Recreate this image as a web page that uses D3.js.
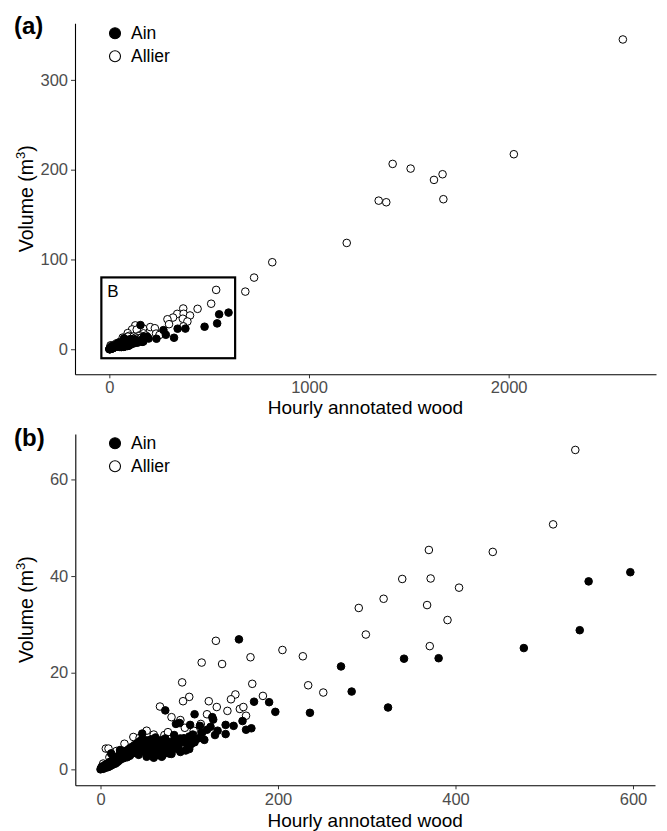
<!DOCTYPE html>
<html>
<head>
<meta charset="utf-8">
<script src="https://cdn.jsdelivr.net/npm/d3@7"></script>
<style>
  html, body { margin: 0; padding: 0; background: #fff; }
  svg { display: block; font-family: "Liberation Sans", Arial, Helvetica, sans-serif; }
</style>
</head>
<body>
<svg id="chart" width="667" height="831"></svg>
<script>
// ---------------- DATA ----------------
const seriesNames = ["Ain", "Allier"];
const xTitle = "Hourly annotated wood";
const insetLabel = "B";
// inset box (data units of panel a)
const insetBoxX = [-40, 630];
const insetBoxY = [-10, 80];

// Ain: [hourly annotated wood, volume m3]
const ainPoints = [
  [597, 40.8], [550, 38.9], [540, 28.8], [477, 25.1], [381, 23.0], [342, 22.9],
  [271, 21.3], [283, 16.1], [324, 12.8], [236, 11.7], [197, 11.9], [190, 13.9],
  [173, 14.0], [156, 26.9], [170, 8.5], [141, 9.2], [141, 7.3], [129, 7.1],
  [126, 10.8], [127, 10.3], [124, 8.8], [117, 6.1], [106, 11.4], [105, 5.6],
  [101, 9.2], [96, 3.9], [96, 5.7], [94, 6.4], [89, 9.6], [85, 9.4], [83, 7.1],
  [73, 12.2], [47, 7.4], [86, 4.3], [78, 3.3], [72, 4.3], [69, 2.6], [65, 3.0],
  [64, 5.4], [63, 4.6], [58, 3.6], [57, 4.7], [52, 2.6], [50, 3.6], [43, 3.0],
  [41, 4.7], [34, 4.3], [33, 2.8], [26, 2.3], [22, 4.0], [18, 1.9], [13, 1.4],
  [12, 3.3], [5, 0.9], [1, 0.4], [0, 0],
  [1, 0.2], [2, 0.3], [3, 0.1], [2, 0.6], [4, 0.5], [5, 0.3], [6, 0.6], [7, 0.4],
  [7, 1.1], [8, 0.8], [9, 0.5], [9, 1.3], [10, 1.0], [11, 0.7], [11, 1.6], [12, 1.2],
  [13, 0.9], [13, 1.8], [14, 1.4], [15, 1.1], [15, 2.1], [16, 1.6], [17, 1.2],
  [18, 2.6], [19, 1.5], [20, 2.2], [21, 1.8], [22, 2.6], [22, 3.4], [23, 2.1],
  [24, 2.9], [25, 2.4], [26, 3.3], [27, 2.7], [28, 3.8], [29, 3.1], [30, 2.5],
  [31, 3.5], [32, 4.2], [33, 3.0], [34, 3.8], [35, 4.6], [36, 3.3], [37, 4.1],
  [38, 5.0], [39, 3.6], [40, 4.4], [41, 5.4], [42, 3.9], [43, 4.8], [44, 5.8],
  [45, 4.2], [46, 5.1], [47, 6.3], [48, 4.5], [50, 5.5], [51, 3.9], [52, 6.0],
  [53, 4.8], [55, 5.2], [56, 4.1], [57, 6.2], [58, 5.0], [60, 4.4], [61, 5.6],
  [62, 6.6], [63, 4.8], [65, 5.4], [66, 3.6], [68, 6.0], [69, 4.6], [70, 5.1],
  [72, 4.3], [73, 6.4], [74, 5.4], [76, 4.0], [77, 3.3], [79, 5.7], [80, 4.8],
  [82, 4.2], [84, 6.2], [86, 5.0], [88, 4.4], [90, 6.4], [92, 5.6], [94, 6.4],
  [96, 5.7], [98, 4.6], [100, 6.8], [102, 5.2], [104, 7.2], [106, 5.6],
  [60, 2.4], [70, 2.9], [80, 3.2], [90, 3.6], [100, 4.2], [110, 6.4], [114, 7.6],
  [120, 8.2], [132, 8.0], [150, 9.0], [160, 10.0], [164, 8.2], [112, 9.0]
];

// Allier: [hourly annotated wood, volume m3]
const allierPoints = [
  [2572, 345], [2026, 217.2], [1419, 206.4], [1509, 201.2], [1669, 194.9],
  [1626, 188.6], [1673, 167.1], [1349, 165.5], [1387, 163.7], [1189, 118.4],
  [816, 96.9], [725, 79.8], [681, 64.2],
  [535, 66.1], [510, 50.7], [370, 45.4], [442, 45.0], [340, 39.4], [372, 39.5],
  [404, 37.6], [319, 35.3], [291, 33.4], [368, 34.0], [391, 30.9], [299, 27.9],
  [371, 25.5], [205, 24.7], [228, 23.4], [130, 26.6], [169, 23.2], [114, 22.1],
  [137, 21.8], [92, 18.0], [171, 17.7], [234, 17.4], [251, 15.9], [100, 15.0],
  [93, 14.1], [122, 14.1], [152, 15.5], [147, 14.5], [183, 15.2], [67, 13.0],
  [131, 12.9], [143, 12.1], [157, 12.5], [161, 12.9], [164, 11.1], [120, 11.4],
  [80, 10.8], [90, 10.2], [113, 9.4], [114, 7.3], [72, 7.1], [76, 7.7], [37, 6.7],
  [52, 8.0], [83, 5.6], [27, 5.3], [6, 4.3], [9, 4.3],
  [3, 1.2], [10, 2.5], [18, 3.8], [44, 6.5], [60, 7.2], [95, 8.6], [105, 8.0]
];

const xTicksA = [0, 1000, 2000];
const yTicksA = [0, 100, 200, 300];
const xTicksB = [0, 200, 400, 600];
const yTicksB = [0, 20, 40, 60];

// ---------------- DRAW ----------------
const svg = d3.select("#chart");
const tickColor = "#4D4D4D";
const fontStack = "'Liberation Sans', Arial, Helvetica, sans-serif";

function drawPanel(cfg) {
  const g = svg.append("g");
  const x = d3.scaleLinear().domain(cfg.xDomain).range(cfg.xRange);
  const y = d3.scaleLinear().domain(cfg.yDomain).range(cfg.yRange);
  const inside = p => p[0] >= cfg.xDomain[0] && p[0] <= cfg.xDomain[1] && p[1] >= cfg.yDomain[0] && p[1] <= cfg.yDomain[1];

  // axes
  const fmt = d3.format("d");
  const xAxis = g.append("g")
    .attr("transform", `translate(0,${cfg.yRange[0]})`)
    .call(d3.axisBottom(x).tickValues(cfg.xTicks).tickFormat(fmt).tickSize(4).tickSizeOuter(0).tickPadding(cfg.xTickPad));
  const yAxis = g.append("g")
    .attr("transform", `translate(${cfg.xRange[0]},0)`)
    .call(d3.axisLeft(y).tickValues(cfg.yTicks).tickFormat(fmt).tickSize(4).tickSizeOuter(0).tickPadding(3));
  [xAxis, yAxis].forEach(a => {
    a.attr("font-family", fontStack);
    a.select(".domain").attr("stroke", "#000").attr("stroke-width", 1.1);
    a.selectAll(".tick line").attr("stroke", "#333").attr("stroke-width", 1);
    a.selectAll(".tick text").attr("fill", tickColor).attr("font-size", 16.5);
  });

  // points
  const r = 3.8;
  g.append("g").selectAll("circle").data(allierPoints.filter(inside)).join("circle")
    .attr("cx", d => x(d[0])).attr("cy", d => y(d[1])).attr("r", r)
    .attr("fill", "#fff").attr("stroke", "#000").attr("stroke-width", 1);
  g.append("g").selectAll("circle").data(ainPoints.filter(inside)).join("circle")
    .attr("cx", d => x(d[0])).attr("cy", d => y(d[1])).attr("r", r)
    .attr("fill", "#000").attr("stroke", "#000").attr("stroke-width", 1);

  // inset box
  if (cfg.inset) {
    g.append("rect")
      .attr("x", x(insetBoxX[0])).attr("y", y(insetBoxY[1]))
      .attr("width", x(insetBoxX[1]) - x(insetBoxX[0]))
      .attr("height", y(insetBoxY[0]) - y(insetBoxY[1]))
      .attr("fill", "none").attr("stroke", "#000").attr("stroke-width", 2.2);
    g.append("text").attr("x", x(insetBoxX[0]) + 6).attr("y", y(insetBoxY[1]) + 19.5)
      .attr("font-size", 17).attr("fill", "#000").text(insetLabel);
  }

  // axis titles
  const xc = (cfg.xRange[0] + cfg.xRange[1]) / 2;
  g.append("text").attr("x", xc).attr("y", cfg.yRange[0] + cfg.xTitleGap)
    .attr("text-anchor", "middle").attr("font-size", 19).attr("fill", "#000").text(xTitle);
  const yc = (cfg.yRange[0] + cfg.yRange[1]) / 2;
  const yt = g.append("text").attr("transform", `translate(33,${yc}) rotate(-90)`)
    .attr("text-anchor", "middle").attr("font-size", 19.5).attr("fill", "#000");
  yt.append("tspan").text("Volume (m");
  yt.append("tspan").attr("font-size", 13).attr("dy", -8).text("3");
  yt.append("tspan").attr("dy", 8).text(")");

  // tag
  g.append("text").attr("x", 14).attr("y", cfg.tagY).attr("font-size", 24)
    .attr("font-weight", "bold").attr("fill", "#000").text(cfg.tag);

  // legend
  const lg = g.append("g");
  seriesNames.forEach((name, i) => {
    const cy = cfg.legendY + i * 23;
    lg.append("circle").attr("cx", 115).attr("cy", cy).attr("r", 5.5)
      .attr("fill", i === 0 ? "#000" : "#fff").attr("stroke", "#000").attr("stroke-width", 1.1);
    lg.append("text").attr("x", 131).attr("y", cy + 5.5).attr("font-size", 17.5)
      .attr("fill", "#000").text(name);
  });
}

drawPanel({
  xDomain: [-172, 2738], xRange: [75, 656],
  yDomain: [-27.9, 363], yRange: [374.3, 23.3],
  xTicks: xTicksA, yTicks: yTicksA, inset: true, xTickPad: 3, xTitleGap: 40,
  tag: "(a)", tagY: 33.5, legendY: 33.3
});
drawPanel({
  xDomain: [-28.4, 624.8], xRange: [75.3, 655],
  yDomain: [-3.3, 69.4], yRange: [785.3, 434],
  xTicks: xTicksB, yTicks: yTicksB, inset: false, xTickPad: 4, xTitleGap: 41.5,
  tag: "(b)", tagY: 445.5, legendY: 443.3
});
</script>
</body>
</html>
